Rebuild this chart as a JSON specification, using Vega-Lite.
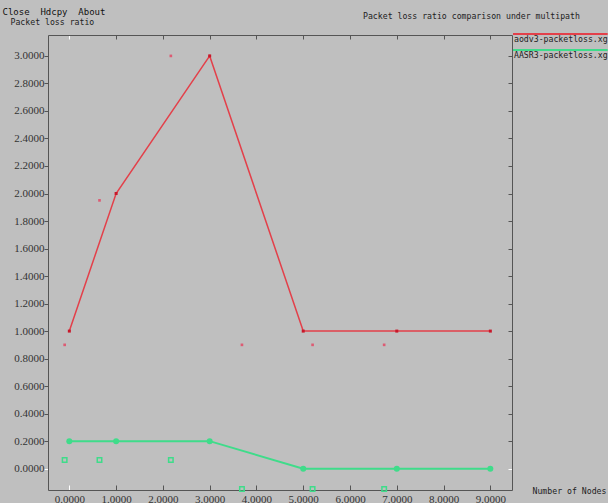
{
  "$schema": "https://vega.github.io/schema/vega-lite/v6.json",
  "width": 464,
  "height": 455,
  "autosize": {"type": "none"},
  "padding": {"left": 48, "top": 35, "right": 96, "bottom": 13},
  "background": "#bfbfbf",
  "title": {
    "text": "Packet loss ratio comparison under multipath",
    "anchor": "start",
    "frame": "group",
    "dx": 315,
    "dy": 18,
    "font": "DejaVu Sans Mono",
    "fontSize": 8.2,
    "fontWeight": "normal",
    "color": "#222222"
  },
  "config": {
    "view": {"stroke": null},
    "axis": {
      "grid": false,
      "domainColor": "#555555",
      "domainWidth": 1,
      "tickColor": {"condition": {"test": "datum.value === 0", "value": "#ffffff"}, "value": "#555555"},
      "labelFont": "Liberation Serif",
      "labelFontSize": 11,
      "labelColor": "#333333",
      "titleFont": "DejaVu Sans Mono",
      "titleFontSize": 8.2,
      "titleFontWeight": "normal",
      "titleColor": "#222222"
    },
    "legend": {
      "orient": "none",
      "legendX": 464,
      "legendY": -3,
      "symbolType": "M-1,-0.125L1,-0.125",
      "symbolSize": 9216,
      "symbolStrokeWidth": 2,
      "symbolFillColor": "transparent",
      "labelOffset": -96,
      "labelFont": "DejaVu Sans Mono",
      "labelFontSize": 8.2,
      "labelColor": "#222222",
      "labelLimit": 200,
      "clipHeight": 16,
      "rowPadding": 0,
      "padding": 0
    }
  },
  "datasets": {
    "lines": [
      {"series": "aodv3-packetloss.xg", "nodes": 0, "ratio": 1.0},
      {"series": "aodv3-packetloss.xg", "nodes": 1, "ratio": 2.0},
      {"series": "aodv3-packetloss.xg", "nodes": 3, "ratio": 3.0},
      {"series": "aodv3-packetloss.xg", "nodes": 5, "ratio": 1.0},
      {"series": "aodv3-packetloss.xg", "nodes": 7, "ratio": 1.0},
      {"series": "aodv3-packetloss.xg", "nodes": 9, "ratio": 1.0},
      {"series": "AASR3-packetloss.xg", "nodes": 0, "ratio": 0.2},
      {"series": "AASR3-packetloss.xg", "nodes": 1, "ratio": 0.2},
      {"series": "AASR3-packetloss.xg", "nodes": 3, "ratio": 0.2},
      {"series": "AASR3-packetloss.xg", "nodes": 5, "ratio": 0.0},
      {"series": "AASR3-packetloss.xg", "nodes": 7, "ratio": 0.0},
      {"series": "AASR3-packetloss.xg", "nodes": 9, "ratio": 0.0}
    ],
    "scatter": [
      {"series": "aodv3-packetloss.xg", "nodes": -0.1, "ratio": 0.9},
      {"series": "aodv3-packetloss.xg", "nodes": 0.645, "ratio": 1.95},
      {"series": "aodv3-packetloss.xg", "nodes": 2.17, "ratio": 3.0},
      {"series": "aodv3-packetloss.xg", "nodes": 3.69, "ratio": 0.9},
      {"series": "aodv3-packetloss.xg", "nodes": 5.2, "ratio": 0.9},
      {"series": "aodv3-packetloss.xg", "nodes": 6.73, "ratio": 0.9},
      {"series": "AASR3-packetloss.xg", "nodes": -0.1, "ratio": 0.063},
      {"series": "AASR3-packetloss.xg", "nodes": 0.645, "ratio": 0.063},
      {"series": "AASR3-packetloss.xg", "nodes": 2.17, "ratio": 0.063},
      {"series": "AASR3-packetloss.xg", "nodes": 3.69, "ratio": -0.147},
      {"series": "AASR3-packetloss.xg", "nodes": 5.2, "ratio": -0.147},
      {"series": "AASR3-packetloss.xg", "nodes": 6.73, "ratio": -0.147}
    ]
  },
  "layer": [
    {
      "data": {"name": "lines"},
      "transform": [{"filter": "datum.series === 'aodv3-packetloss.xg'"}],
      "mark": {"type": "line", "strokeWidth": 1.5},
      "encoding": {
        "x": {"field": "nodes", "type": "quantitative",
          "scale": {"domain": [-0.456, 9.463], "nice": false, "zero": false},
          "axis": {"orient": "bottom", "values": [0,1,2,3,4,5,6,7,8,9], "format": ".4f",
            "tickSize": -5, "labelPadding": 8, "labelFont": "Liberation Serif", "labelFontSize": 11,
            "title": "Number of Nodes", "titleX": 484, "titleY": 1, "titleAlign": "left", "titleBaseline": "middle", "titleAnchor": null}},
        "y": {"field": "ratio", "type": "quantitative",
          "scale": {"domain": [-0.155, 3.152], "nice": false, "zero": false},
          "axis": {"orient": "left", "values": [0,0.2,0.4,0.6,0.8,1,1.2,1.4,1.6,1.8,2,2.2,2.4,2.6,2.8,3], "format": ".4f",
            "tickSize": 4, "labelPadding": 0, "labelFont": "Liberation Serif", "labelFontSize": 11,
            "title": "Packet loss ratio", "titleAngle": 0, "titleX": -38, "titleY": -13, "titleAlign": "left", "titleBaseline": "middle"}},
        "color": {"field": "series", "type": "nominal",
          "scale": {"domain": ["aodv3-packetloss.xg", "AASR3-packetloss.xg"], "range": ["#e3404a", "#3fdc8a"]},
          "legend": {"title": null}}
      }
    },
    {
      "data": {"name": "lines"},
      "transform": [{"filter": "datum.series === 'AASR3-packetloss.xg'"}],
      "mark": {"type": "line", "strokeWidth": 2},
      "encoding": {
        "x": {"field": "nodes", "type": "quantitative",
          "scale": {"domain": [-0.456, 9.463], "nice": false, "zero": false},
          "axis": {"orient": "top", "values": [0,1,2,3,4,5,6,7,8,9], "labels": false, "tickSize": -4,
            "title": "Close\u00a0\u00a0Hdcpy\u00a0\u00a0About", "titleX": -46, "titleY": -24, "titleAlign": "left", "titleBaseline": "middle", "titleFontSize": 9, "titleColor": "#111111"}},
        "y": {"field": "ratio", "type": "quantitative",
          "scale": {"domain": [-0.155, 3.152], "nice": false, "zero": false},
          "axis": {"orient": "right", "values": [0,0.2,0.4,0.6,0.8,1,1.2,1.4,1.6,1.8,2,2.2,2.4,2.6,2.8,3], "labels": false, "tickSize": -4, "title": null}},
        "color": {"field": "series", "type": "nominal",
          "scale": {"domain": ["aodv3-packetloss.xg", "AASR3-packetloss.xg"], "range": ["#e3404a", "#3fdc8a"]},
          "legend": {"title": null}}
      }
    },
    {
      "data": {"name": "lines"},
      "transform": [{"filter": "datum.series === 'aodv3-packetloss.xg'"}],
      "mark": {"type": "point", "shape": "square", "size": 9, "filled": true, "color": "#c8182a", "opacity": 1},
      "encoding": {
        "x": {"field": "nodes", "type": "quantitative", "scale": {"domain": [-0.456, 9.463], "nice": false, "zero": false}, "axis": null},
        "y": {"field": "ratio", "type": "quantitative", "scale": {"domain": [-0.155, 3.152], "nice": false, "zero": false}, "axis": null}
      }
    },
    {
      "data": {"name": "lines"},
      "transform": [{"filter": "datum.series === 'AASR3-packetloss.xg'"}],
      "mark": {"type": "point", "shape": "circle", "size": 36, "filled": true, "color": "#3fdc8a", "opacity": 1},
      "encoding": {
        "x": {"field": "nodes", "type": "quantitative", "scale": {"domain": [-0.456, 9.463], "nice": false, "zero": false}, "axis": null},
        "y": {"field": "ratio", "type": "quantitative", "scale": {"domain": [-0.155, 3.152], "nice": false, "zero": false}, "axis": null}
      }
    },
    {
      "data": {"name": "scatter"},
      "transform": [{"filter": "datum.series === 'aodv3-packetloss.xg'"}],
      "mark": {"type": "point", "shape": "square", "size": 7, "filled": true, "color": "#e0506a", "opacity": 0.9},
      "encoding": {
        "x": {"field": "nodes", "type": "quantitative", "scale": {"domain": [-0.456, 9.463], "nice": false, "zero": false}, "axis": null},
        "y": {"field": "ratio", "type": "quantitative", "scale": {"domain": [-0.155, 3.152], "nice": false, "zero": false}, "axis": null}
      }
    },
    {
      "data": {"name": "scatter"},
      "transform": [{"filter": "datum.series === 'AASR3-packetloss.xg'"}],
      "mark": {"type": "point", "shape": "square", "size": 20, "filled": false, "color": "#3fdc8a", "strokeWidth": 1.5, "opacity": 1},
      "encoding": {
        "x": {"field": "nodes", "type": "quantitative", "scale": {"domain": [-0.456, 9.463], "nice": false, "zero": false}, "axis": null},
        "y": {"field": "ratio", "type": "quantitative", "scale": {"domain": [-0.155, 3.152], "nice": false, "zero": false}, "axis": null}
      }
    }
  ]
}
